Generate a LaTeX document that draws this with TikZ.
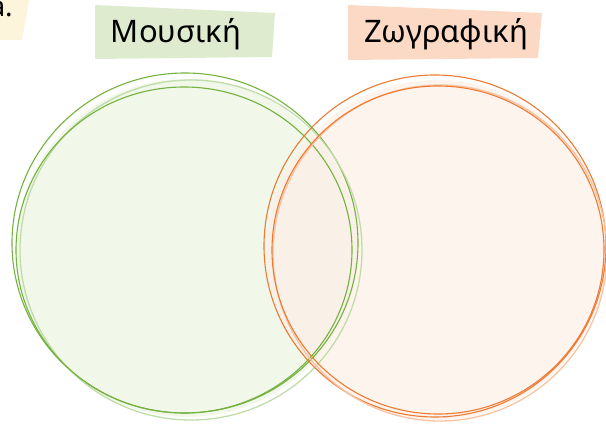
\documentclass[tikz,border=0pt]{standalone}
\usepackage{fontspec}
\setmainfont{Noto Sans}
\begin{document}
\begin{tikzpicture}[x=1pt,y=-1pt,
  gline/.style={draw=gstroke,line width=1.1pt},
  gfaint/.style={draw=gstroke!45,line width=1.3pt},
  oline/.style={draw=ostroke,line width=1.1pt},
  ofaint/.style={draw=ostroke!45,line width=1.3pt},
  lbl/.style={font=\fontsize{31}{31}\selectfont,text=black,anchor=base}]
\definecolor{gstroke}{HTML}{74B23F}
\definecolor{ostroke}{HTML}{EE7A33}
\definecolor{gfill}{HTML}{F1F7E9}
\definecolor{ofill}{HTML}{FDF0E7}
\definecolor{gbox}{HTML}{DEEBCF}
\definecolor{obox}{HTML}{FBD9C4}
\definecolor{ybox}{HTML}{FDF4DC}
\useasboundingbox (0,0) rectangle (606,425);
\clip (0,0) rectangle (606,425);
% top-left tag
\fill[ybox] (-5,-5) -- (30,-5) -- (22,40) -- (-5,40) -- cycle;
\node[font=\fontsize{28}{28}\selectfont,anchor=base west] (tag) at (-14,17) {a.};
% label boxes
\fill[gbox] (95,5) -- (275,13) -- (272,57) -- (95,59) -- cycle;
\node[lbl] (mus) at (176,43) {Μουσική};
\fill[obox] (348,5) -- (542,13) -- (538,58) -- (348,60) -- cycle;
\node[lbl] (zog) at (446,43) {Ζωγραφική};
% fills
\fill[gfill] (187,248) ellipse (171 and 169);
\fill[ofill,opacity=0.75] (437,250) ellipse (170 and 170);
% green strokes
\draw[gline] (185,243) ellipse (173 and 170);
\draw[gfaint] (191,250) ellipse (171 and 170);
\draw[gline] (184,250) ellipse (168 and 163);
% orange strokes
\draw[oline] (435,246) ellipse (171 and 171);
\draw[ofaint] (440,253) ellipse (167 and 168);
\draw[oline] (438,250) ellipse (166 and 164);
\end{tikzpicture}
\end{document}
